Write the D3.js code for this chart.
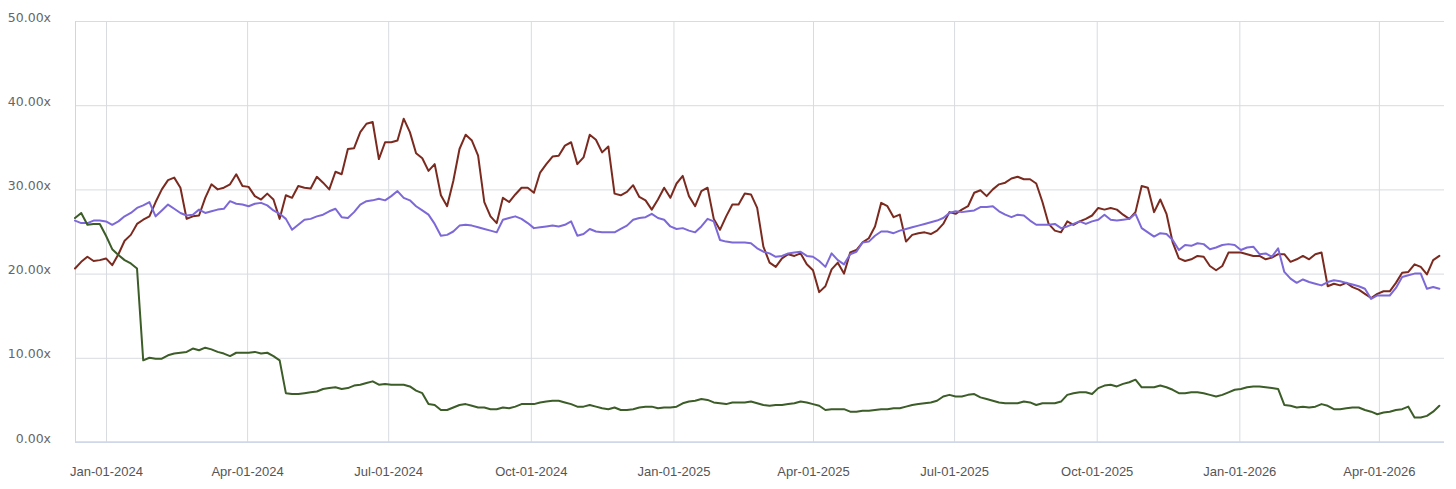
<!DOCTYPE html>
<html>
<head>
<meta charset="utf-8">
<script src="https://cdn.jsdelivr.net/npm/d3@7"></script>
<style>
  html, body { margin: 0; padding: 0; background: #ffffff; }
  svg { display: block; }
</style>
</head>
<body>
<div id="chart"></div>
<script>
/**
 * Three valuation multiples over time (x multiple, Dec-2023 .. May-2026)
 * Values, one sample every 4 days
 */

// Sampling grid of the series
const startDate = new Date(2023, 11, 12);
const endDate = new Date(2026, 4, 13);
const stepDays = 4;

// Axis ticks
const tickDates = ['2024-01-01', '2024-04-01', '2024-07-01', '2024-10-01', '2025-01-01',
  '2025-04-01', '2025-07-01', '2025-10-01', '2026-01-01', '2026-04-01'];
const yTicks = [0, 10, 20, 30, 40, 50];

// Series values (multiple, x)
const brownValues = [
  20.6, 21.4, 22.0, 21.5, 21.6, 21.8, 21.0, 22.3, 23.9, 24.6,
  25.9, 26.4, 26.8, 28.5, 30.0, 31.1, 31.4, 30.2, 26.5, 26.8,
  26.9, 29.0, 30.6, 30.0, 30.2, 30.6, 31.8, 30.4, 30.3, 29.2,
  28.8, 29.5, 28.8, 26.5, 29.3, 29.0, 30.4, 30.2,
  30.1, 31.5, 30.8, 30.0, 32.1, 31.8, 34.8, 34.9, 36.8, 37.8,
  38.0, 33.6, 35.6, 35.6, 35.8, 38.4, 36.8, 34.3, 33.7, 32.2,
  33.0, 29.3, 28.0, 31.0, 34.8, 36.5, 35.8, 34.0, 28.5, 26.8,
  26.0, 29.0, 28.5, 29.4, 30.2, 30.2, 29.6, 32.0,
  33.0, 33.9, 34.0, 35.2, 35.6, 33.0, 33.8, 36.5, 35.9, 34.4,
  35.1, 29.5, 29.3, 29.7, 30.5, 29.1, 28.7, 27.6, 28.8, 30.2,
  29.0, 30.7, 31.6, 29.2, 28.0, 29.8, 30.2, 26.5, 25.2, 26.8,
  28.2, 28.2, 29.5, 29.4, 27.8, 23.2, 21.3, 20.8,
  21.8, 22.3, 22.1, 22.4, 21.1, 20.4, 17.8, 18.5, 20.5, 21.3,
  20.0, 22.5, 22.8, 23.7, 24.2, 25.6, 28.4, 28.0, 26.7, 27.0,
  23.8, 24.6, 24.8, 24.9, 24.7, 25.1, 25.9, 27.3, 27.1, 27.6,
  28.0, 29.6, 29.9, 29.2, 30.0, 30.6, 30.8, 31.3,
  31.5, 31.2, 31.2, 30.7, 28.5, 25.9, 25.1, 24.9, 26.2, 25.8,
  26.2, 26.5, 26.9, 27.8, 27.6, 27.8, 27.6, 27.0, 26.5, 27.3,
  30.4, 30.2, 27.3, 28.8, 27.1, 23.7, 21.8, 21.5, 21.7, 22.1,
  22.0, 20.9, 20.4, 20.9, 22.5, 22.5, 22.5, 22.3,
  22.1, 22.1, 21.7, 21.9, 22.3, 22.3, 21.4, 21.7, 22.1, 21.7,
  22.3, 22.5, 18.5, 18.8, 18.6, 18.9, 18.4, 18.1, 17.6, 17.1,
  17.6, 17.9, 17.9, 18.9, 20.1, 20.2, 21.1, 20.8, 19.9, 21.6, 22.1
];

const purpleValues = [
  26.3, 26.0, 26.0, 26.3, 26.3, 26.2, 25.8, 26.2, 26.8, 27.2,
  27.8, 28.1, 28.5, 26.8, 27.5, 28.2, 27.7, 27.2, 26.9, 27.0,
  27.6, 27.2, 27.4, 27.6, 27.7, 28.6, 28.3, 28.2, 28.0, 28.3,
  28.4, 28.1, 27.5, 27.1, 26.5, 25.2, 25.8, 26.4,
  26.5, 26.8, 27.0, 27.4, 27.7, 26.7, 26.6, 27.3, 28.2, 28.6,
  28.7, 28.9, 28.7, 29.2, 29.8, 29.0, 28.7, 28.0, 27.5, 27.0,
  25.9, 24.5, 24.6, 25.0, 25.7, 25.8, 25.7, 25.5, 25.3, 25.1,
  24.9, 26.4, 26.6, 26.8, 26.5, 26.0, 25.4, 25.5,
  25.6, 25.7, 25.6, 25.8, 26.2, 24.5, 24.7, 25.3, 25.0, 24.9,
  24.9, 24.9, 25.3, 25.7, 26.4, 26.6, 26.7, 27.1, 26.6, 26.4,
  25.6, 25.3, 25.4, 25.1, 24.9, 25.6, 26.5, 26.2, 24.0, 23.8,
  23.7, 23.7, 23.7, 23.6, 23.0, 22.6, 22.4, 22.0,
  22.1, 22.4, 22.5, 22.6, 22.1, 22.0, 21.5, 20.8, 22.4, 21.6,
  21.1, 22.3, 22.6, 23.7, 23.8, 24.5, 25.0, 25.0, 24.8, 25.1,
  25.3, 25.5, 25.7, 25.9, 26.1, 26.3, 26.6, 27.2, 27.4, 27.3,
  27.4, 27.5, 27.9, 27.9, 28.0, 27.4, 27.0, 26.7,
  27.0, 26.9, 26.3, 25.8, 25.8, 25.8, 25.9, 25.4, 25.6, 25.9,
  26.2, 25.9, 26.2, 26.4, 27.0, 26.4, 26.3, 26.4, 26.5, 27.1,
  25.4, 24.9, 24.4, 24.8, 24.7, 24.0, 22.8, 23.4, 23.3, 23.6,
  23.5, 22.9, 23.1, 23.4, 23.5, 23.4, 22.8, 23.1,
  23.2, 22.3, 22.4, 22.0, 23.0, 20.2, 19.4, 18.9, 19.3, 19.0,
  18.8, 18.6, 19.0, 19.2, 19.1, 18.9, 18.7, 18.5, 18.2, 17.0,
  17.4, 17.4, 17.4, 18.3, 19.6, 19.8, 20.0, 20.0, 18.2, 18.4, 18.2
];

const greenValues = [
  26.6, 27.2, 25.8, 25.9, 25.9, 24.5, 22.9, 22.2, 21.6, 21.2,
  20.6, 9.7, 10.0, 9.9, 9.9, 10.3, 10.5, 10.6, 10.7, 11.1,
  10.9, 11.2, 11.0, 10.7, 10.5, 10.2, 10.6, 10.6, 10.6, 10.7,
  10.5, 10.6, 10.2, 9.7, 5.8, 5.7, 5.7, 5.8,
  5.9, 6.0, 6.3, 6.4, 6.5, 6.3, 6.4, 6.7, 6.8, 7.0,
  7.2, 6.8, 6.9, 6.8, 6.8, 6.8, 6.6, 6.1, 5.8, 4.5,
  4.4, 3.8, 3.8, 4.1, 4.4, 4.5, 4.3, 4.1, 4.1, 3.9,
  3.9, 4.1, 4.0, 4.2, 4.5, 4.5, 4.5, 4.7,
  4.8, 4.9, 4.9, 4.7, 4.5, 4.2, 4.2, 4.4, 4.2, 4.0,
  3.9, 4.1, 3.8, 3.8, 3.9, 4.1, 4.2, 4.2, 4.0, 4.1,
  4.1, 4.2, 4.6, 4.8, 4.9, 5.1, 5.0, 4.7, 4.6, 4.5,
  4.7, 4.7, 4.7, 4.8, 4.6, 4.4, 4.3, 4.4,
  4.4, 4.5, 4.6, 4.8, 4.7, 4.5, 4.3, 3.8, 3.9, 3.9,
  3.9, 3.6, 3.6, 3.7, 3.7, 3.8, 3.9, 3.9, 4.0, 4.0,
  4.2, 4.4, 4.5, 4.6, 4.7, 4.9, 5.4, 5.6, 5.4, 5.4,
  5.6, 5.7, 5.3, 5.1, 4.9, 4.7, 4.6, 4.6,
  4.6, 4.8, 4.7, 4.4, 4.6, 4.6, 4.6, 4.8, 5.6, 5.8,
  5.9, 5.9, 5.7, 6.4, 6.7, 6.8, 6.6, 6.9, 7.1, 7.4,
  6.5, 6.5, 6.5, 6.7, 6.5, 6.2, 5.8, 5.8, 5.9, 5.9,
  5.8, 5.6, 5.4, 5.6, 5.9, 6.2, 6.3, 6.5,
  6.6, 6.6, 6.5, 6.4, 6.3, 4.4, 4.3, 4.1, 4.2, 4.1,
  4.2, 4.5, 4.3, 3.9, 3.9, 4.0, 4.1, 4.1, 3.8, 3.6,
  3.3, 3.5, 3.6, 3.8, 3.9, 4.2, 2.9, 2.9, 3.1, 3.6, 4.3
];

// Drawing order: first is at the bottom
const seriesList = [
  { name: 'brown', values: brownValues, color: '#7b2a1f' },
  { name: 'purple', values: purpleValues, color: '#7d68d8' },
  { name: 'green', values: greenValues, color: '#3c5c28' }
];

const chartWidth = 1456;
const chartHeight = 489;
const margin = { top: 21, right: 12, bottom: 47, left: 75 };

/**
 * Build the chart
 */
function drawChart() {
  const width = chartWidth - margin.left - margin.right;
  const height = chartHeight - margin.top - margin.bottom;
  const parseDay = d3.timeParse('%Y-%m-%d');

  const dates = brownValues.map((_, i) => d3.timeDay.offset(startDate, i * stepDays));

  const svg = d3.select('#chart')
    .append('svg')
    .attr('width', chartWidth)
    .attr('height', chartHeight);

  const g = svg.append('g')
    .attr('transform', `translate(${margin.left},${margin.top})`);

  const xScale = d3.scaleTime()
    .domain([startDate, endDate])
    .range([0, width]);

  const yScale = d3.scaleLinear()
    .domain([0, 50])
    .range([height, 0]);

  addAxes(g, xScale, yScale, width, height, tickDates.map(parseDay));

  const line = d3.line()
    .x((d, i) => xScale(dates[i]))
    .y(d => yScale(d));

  seriesList.forEach(series => {
    g.append('path')
      .datum(series.values)
      .attr('class', `series-${series.name}`)
      .attr('d', line)
      .style('fill', 'none')
      .style('stroke', series.color)
      .style('stroke-width', '2px')
      .style('stroke-linejoin', 'round')
      .style('stroke-linecap', 'round');
  });
}

/**
 * Grid lines, labels and axis lines
 */
function addAxes(g, xScale, yScale, width, height, ticks) {
  // Y axis: horizontal grid + labels
  const yAxis = g.append('g')
    .attr('class', 'y-axis')
    .call(d3.axisLeft(yScale)
      .tickValues(yTicks)
      .tickSize(-width)
      .tickPadding(24)
      .tickFormat(d => d3.format('.2f')(d) + 'x'));

  yAxis.select('.domain').remove();
  yAxis.selectAll('.tick line')
    .style('stroke', '#d8dbe0')
    .style('stroke-width', '1px');
  yAxis.selectAll('.tick text')
    .attr('dy', '0')
    .style('font-family', '"DejaVu Sans", Verdana, sans-serif')
    .style('font-size', '12.5px')
    .style('fill', '#666666');

  // X axis: vertical grid + date labels
  const xAxis = g.append('g')
    .attr('class', 'x-axis')
    .attr('transform', `translate(0,${height})`)
    .call(d3.axisBottom(xScale)
      .tickValues(ticks)
      .tickSize(-height)
      .tickPadding(25)
      .tickFormat(d3.timeFormat('%b-%d-%Y')));

  xAxis.select('.domain').remove();
  xAxis.selectAll('.tick line')
    .style('stroke', '#d8dbe0')
    .style('stroke-width', '1px');
  xAxis.selectAll('.tick text')
    .style('font-family', '"Liberation Sans", Arial, sans-serif')
    .style('font-size', '13px')
    .style('fill', '#555555');

  // Left and bottom axis lines
  g.append('line')
    .attr('x1', 0.5).attr('x2', 0.5)
    .attr('y1', 0).attr('y2', height)
    .style('stroke', '#ccd6eb')
    .style('stroke-width', '1px');

  g.append('line')
    .attr('x1', 0).attr('x2', width)
    .attr('y1', height).attr('y2', height)
    .style('stroke', '#ccd6eb')
    .style('stroke-width', '1.5px');
}

drawChart();
</script>
</body>
</html>
